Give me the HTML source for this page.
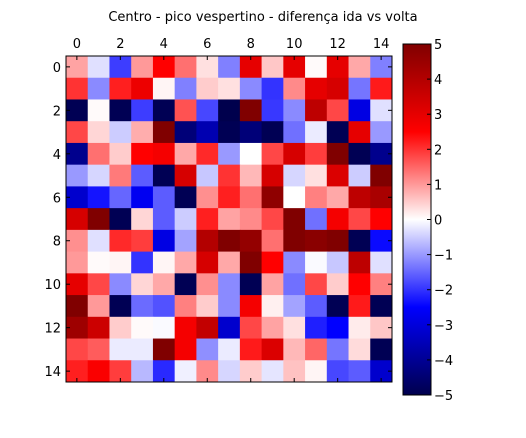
<!DOCTYPE html>
<html><head><meta charset="utf-8"><style>
body{margin:0;background:#fff;}
svg{display:block;font-family:"DejaVu Sans","Liberation Sans",sans-serif;}
</style></head><body>
<svg id="chart" width="526" height="438" viewBox="0 0 526 438">
<rect width="526" height="438" fill="#fff"/>
<text x="263" y="21" font-size="13" text-anchor="middle">Centro - pico vespertino - diferença ida vs volta</text>
<g id="cells"></g><g id="axes"></g>
<defs><linearGradient id="cg" x1="0" y1="1" x2="0" y2="0">
<stop offset="0" stop-color="rgb(0,0,77)"/><stop offset="0.25" stop-color="rgb(0,0,255)"/><stop offset="0.5" stop-color="#fff"/><stop offset="0.75" stop-color="rgb(255,0,0)"/><stop offset="1" stop-color="rgb(128,0,0)"/></linearGradient></defs>
<rect x="403" y="44" width="28" height="351" fill="url(#cg)" stroke="#000" stroke-width="1"/>
<g id="cbar"></g>
</svg>
<script>
const rowsIdx=[0,1,2,3,4,5,6,7,8,9,10,11,12,13,14];
const tickLabels=[0,2,4,6,8,10,12,14];
const cbarTicks=[5,4,3,2,1,0,-1,-2,-3,-4,-5];
const row0=[0.9,-0.3,-1.9,1.0,2.5,1.4,0.3,-1.25,3.0,0.55,3.0,0.05,3.0,0.85,-1.25];
const row1=[2.0,-1.15,2.2,2.85,0.1,-1.25,0.5,0.3,-1.15,-2.0,1.15,3.0,3.3,-1.35,2.25];
const row2=[-4.9,0.05,-4.9,-1.9,-4.9,1.7,-1.8,-5,5,-1.95,-1.15,3.8,1.8,-2.9,-0.3];
const row3=[1.8,0.4,-0.5,0.8,5,-4.4,-3.6,-4.9,-4.4,-4.9,-1.4,-0.2,-4.9,3.0,-1.0];
const row4=[-4.1,1.4,0.5,2.5,2.7,0.85,2.1,-1.0,0,1.8,3.3,1.9,5,-4.9,-4.1];
const row5=[-1.0,-0.4,1.3,-1.6,-4.9,3.3,-0.55,2.0,0.7,3.3,-0.4,0.3,3.2,-0.5,5];
const row6=[-3.2,-2.3,-1.5,-2.7,-1.6,-4.9,1.1,2.2,1.4,4.7,0,1.25,0.85,3.8,4.2];
const row7=[3.3,5,-4.9,0.4,-1.6,-0.5,2.2,0.9,1.15,1.8,5,-1.4,2.7,1.8,2.5];
const row8=[1.1,-0.3,2.1,1.9,-2.9,-0.9,4.0,5,4.6,1.4,5,4.8,5,-4.9,-2.4];
const row9=[1.0,0.05,0.1,-2.0,0.1,0.85,3.3,0.85,5,2.5,-1.15,-0.05,-0.55,3.8,-0.3];
const row10=[3.0,1.8,-1.15,0.4,0.85,-4.9,1.1,-1.15,-4.9,0.9,-1.4,1.8,0.5,2.5,1.25];
const row11=[5,1.0,-4.9,-1.45,-1.7,1.25,0.5,-1.15,2.7,0.15,-0.9,-1.6,-4.9,2.25,-4.9];
const row12=[4.4,3.5,0.5,0.05,-0.05,2.7,3.7,-3.2,1.8,0.9,0.3,-2.2,-2.5,0.2,0.55];
const row13=[1.8,1.6,-0.2,-0.2,5,2.7,-1.1,-0.2,2.25,3.2,0.7,1.5,-1.35,0.35,-4.9];
const row14=[2.2,2.6,1.9,-0.7,-2.1,-0.15,1.15,-0.4,0.5,-0.25,0.6,0.1,-1.8,-1.6,-3.2];
const values=[row0,row1,row2,row3,row4,row5,row6,row7,row8,row9,row10,row11,row12,row13,row14];

const NS="http://www.w3.org/2000/svg";
const X0=66,X1=392,Y0=56,Y1=382,N=15;
const cw=(X1-X0)/N,ch=(Y1-Y0)/N;
const xs=i=>X0+i*cw, ys=i=>Y0+i*ch;
const cbY=v=>44+(5-v)/10*351;
function seismic(v){
 let t=Math.max(0,Math.min(1,(v+5)/10));
 const st=[[0,0,0,77],[0.25,0,0,255],[0.5,255,255,255],[0.75,255,0,0],[1,128,0,0]];
 for(let k=0;k<4;k++){const a=st[k],b=st[k+1];
  if(t<=b[0]){const f=(t-a[0])/(b[0]-a[0]);
   return `rgb(${Math.round(a[1]+f*(b[1]-a[1]))},${Math.round(a[2]+f*(b[2]-a[2]))},${Math.round(a[3]+f*(b[3]-a[3]))})`;}}
 return "rgb(128,0,0)";
}
function mk(tag,at,parent){const e=document.createElementNS(NS,tag);for(const k in at)e.setAttribute(k,at[k]);parent.appendChild(e);return e;}
const cells=document.getElementById('cells');
rowsIdx.forEach(r=>{values[r].forEach((v,c)=>{
 const e=mk('rect',{x:xs(c),y:ys(r),width:cw+0.5,height:ch+0.5,fill:seismic(v)},cells);
 
 
});});
const ax=document.getElementById('axes');
const frame=mk('rect',{x:X0,y:Y0,width:X1-X0,height:Y1-Y0,fill:'none',stroke:'#000','stroke-width':1},ax);


tickLabels.forEach(t=>{
 const p=xs(t)+cw/2, q=ys(t)+ch/2;
 mk('line',{x1:p,y1:Y0,x2:p,y2:Y0+4,stroke:'#000'},ax);
 mk('line',{x1:p,y1:Y1,x2:p,y2:Y1-4,stroke:'#000'},ax);
 mk('line',{x1:X0,y1:q,x2:X0+4,y2:q,stroke:'#000'},ax);
 mk('line',{x1:X1,y1:q,x2:X1-4,y2:q,stroke:'#000'},ax);
 const tx=mk('text',{x:p,y:Y0-8,'font-size':13,'text-anchor':'middle'},ax);tx.textContent=t;
 
 
 const ty=mk('text',{x:X0-5,y:q+5,'font-size':13,'text-anchor':'end'},ax);ty.textContent=t;
 
 
});
const cb=document.getElementById('cbar');
cbarTicks.forEach(t=>{
 const y=cbY(t);
 mk('line',{x1:427,y1:y,x2:431,y2:y,stroke:'#000'},cb);
 const tx=mk('text',{x:434,y:y+5,'font-size':13},cb);tx.textContent=t<0?'\u2212'+(-t):t;
 
 
});
</script>
</body></html>
